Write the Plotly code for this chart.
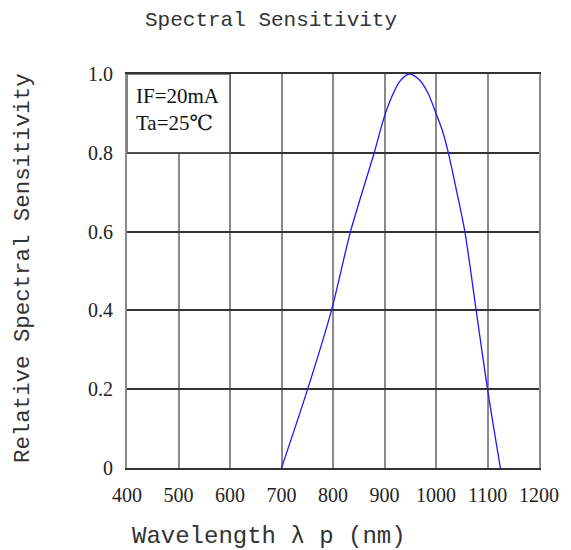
import plotly.graph_objects as go

wavelength = [700, 750, 797, 834, 880, 900, 915, 930, 948, 968, 985, 1000, 1012, 1024, 1040, 1056, 1078, 1100, 1125]
sensitivity = [0.0, 0.197, 0.40, 0.60, 0.80, 0.893, 0.945, 0.982, 1.0, 0.985, 0.95, 0.90, 0.858, 0.80, 0.703, 0.60, 0.40, 0.20, 0.0]

x_ticks = [400, 500, 600, 700, 800, 900, 1000, 1100, 1200]
x_ticktext = ["400", "500", "600", "700", "800", "900", "1000", "1100", "1200"]
y_ticks = [0, 0.2, 0.4, 0.6, 0.8, 1.0]
y_ticktext = ["0", "0.2", "0.4", "0.6", "0.8", "1.0"]

mono = "Liberation Mono, DejaVu Sans Mono, monospace"
serif = "Liberation Serif, DejaVu Serif, serif"

fig = go.Figure()
fig.add_trace(go.Scatter(
    x=wavelength, y=sensitivity, mode="lines",
    line=dict(color="#1a1aff", width=1.3, shape="spline", smoothing=0.8),
    showlegend=False, hoverinfo="skip",
))

# blank box behind condition text (covers inner grid line)
fig.add_shape(type="rect", xref="x", yref="y",
              x0=x_ticks[0], x1=x_ticks[2], y0=y_ticks[4], y1=y_ticks[5],
              fillcolor="white", line=dict(color="#555555", width=1.5), layer="above")

fig.add_annotation(
    xref="x", yref="y", x=x_ticks[0], y=y_ticks[5],
    text="IF=20mA<br>Ta=25℃", showarrow=False, align="left",
    xanchor="left", yanchor="top", xshift=7, yshift=-8,
    font=dict(family=serif, size=21, color="#111111"),
)

fig.add_annotation(
    xref="paper", yref="paper", x=0.349, y=1.137,
    text="Spectral Sensitivity", showarrow=False,
    xanchor="center", yanchor="middle",
    font=dict(family=mono, size=21, color="#333333"),
)
fig.add_annotation(
    xref="paper", yref="paper", x=0.345, y=-0.175,
    text="Wavelength λ p (nm)", showarrow=False,
    xanchor="center", yanchor="middle",
    font=dict(family=mono, size=24, color="#333333"),
)
fig.add_annotation(
    xref="paper", yref="paper", x=-0.252, y=0.508,
    text="Relative Spectral Sensitivity", showarrow=False, textangle=-90,
    xanchor="center", yanchor="middle",
    font=dict(family=mono, size=22.4, color="#333333"),
)

fig.update_layout(
    width=571, height=550,
    margin=dict(l=127, r=28, t=74, b=82),
    paper_bgcolor="white", plot_bgcolor="white",
    xaxis=dict(
        range=[400, 1200], tickvals=x_ticks, ticktext=x_ticktext,
        showgrid=True, gridcolor="#8a8a8a", gridwidth=2,
        zeroline=False, showline=True, linecolor="#333333", linewidth=1.5, mirror=True,
        ticks="", ticklabelstandoff=8,
        tickfont=dict(family=serif, size=20, color="#222222"),
    ),
    yaxis=dict(
        range=[0, 1.0], tickvals=y_ticks, ticktext=y_ticktext,
        showgrid=True, gridcolor="#333333", gridwidth=1.5,
        zeroline=False, showline=True, linecolor="#8a8a8a", linewidth=2, mirror=True,
        ticks="", ticklabelstandoff=8,
        tickfont=dict(family=serif, size=20, color="#222222"),
    ),
)

fig.write_html("out.html")
